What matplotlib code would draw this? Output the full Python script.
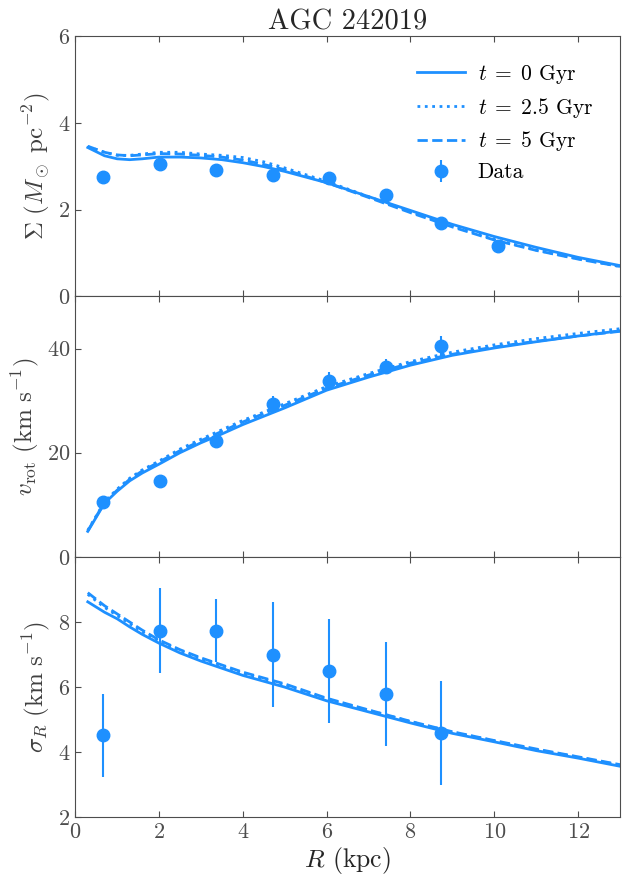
import matplotlib
matplotlib.use('Agg')
import matplotlib.pyplot as plt

plt.rcParams['font.family'] = 'serif'
plt.rcParams['font.serif'] = ['cmr10']
plt.rcParams['mathtext.fontset'] = 'cm'
plt.rcParams['axes.formatter.use_mathtext'] = True
plt.rcParams['axes.unicode_minus'] = False

# ---- data ----
R_data = [0.67, 2.02, 3.37, 4.72, 6.05, 7.41, 8.74, 10.1]
sigma_data = [2.75, 3.05, 2.92, 2.80, 2.72, 2.33, 1.68, 1.17]
sigma_err = [0.05, 0.05, 0.05, 0.05, 0.05, 0.05, 0.05, 0.05]

vrot_data = [10.5, 14.6, 22.3, 29.4, 33.8, 36.5, 40.4]
vrot_err = [0.5, 0.5, 0.6, 1.5, 1.7, 1.4, 2.0]

sigR_data = [4.52, 7.73, 7.73, 7.0, 6.5, 5.8, 4.6]
sigR_err = [1.28, 1.3, 0.97, 1.6, 1.6, 1.6, 1.6]

R_model = [0.3, 0.7, 1.0, 1.3, 1.6, 2.0, 2.5, 3.0, 3.5, 4.0, 4.5, 5.0,
           6.0, 7.0, 8.0, 9.0, 10.0, 11.0, 12.0, 13.0]

sigma_t0 = [3.43, 3.24, 3.17, 3.15, 3.17, 3.21, 3.21, 3.19, 3.15, 3.08, 2.99, 2.88,
            2.62, 2.30, 1.98, 1.66, 1.38, 1.13, 0.90, 0.71]
sigma_t25 = [3.45, 3.32, 3.25, 3.25, 3.28, 3.32, 3.32, 3.28, 3.25, 3.20, 3.10, 2.96,
             2.65, 2.30, 1.95, 1.63, 1.32, 1.07, 0.87, 0.69]
sigma_t5 = [3.46, 3.32, 3.26, 3.24, 3.26, 3.29, 3.28, 3.25, 3.21, 3.14, 3.04, 2.92,
            2.62, 2.28, 1.93, 1.60, 1.30, 1.06, 0.86, 0.69]

vrot_t0 = [4.9, 10.3, 12.6, 14.6, 16.1, 17.8, 20.0, 21.9, 23.6, 25.4, 27.0, 28.6,
           32.0, 34.5, 36.8, 38.7, 40.1, 41.3, 42.4, 43.4]
vrot_t25 = [5.1, 10.6, 13.0, 15.1, 16.7, 18.4, 20.7, 22.6, 24.4, 26.2, 27.8, 29.4,
            32.7, 35.2, 37.5, 39.3, 40.7, 41.9, 42.9, 43.8]
vrot_t5 = [5.0, 10.5, 12.8, 14.9, 16.5, 18.2, 20.4, 22.3, 24.1, 25.9, 27.5, 29.1,
           32.4, 34.9, 37.2, 38.9, 40.3, 41.4, 42.4, 43.3]

sigR_t0 = [8.62, 8.30, 8.10, 7.85, 7.62, 7.35, 7.05, 6.80, 6.58, 6.36, 6.18, 6.00,
           5.58, 5.24, 4.90, 4.58, 4.32, 4.05, 3.82, 3.57]
sigR_t25 = [8.85, 8.45, 8.20, 7.95, 7.70, 7.42, 7.12, 6.87, 6.65, 6.43, 6.25, 6.07,
            5.64, 5.29, 4.94, 4.62, 4.35, 4.08, 3.85, 3.60]
sigR_t5 = [8.90, 8.50, 8.25, 8.00, 7.75, 7.45, 7.15, 6.90, 6.68, 6.46, 6.28, 6.10,
           5.66, 5.30, 4.95, 4.63, 4.36, 4.10, 3.86, 3.62]

col = '#1E90FF'

fig, axes = plt.subplots(3, 1, figsize=(6.32, 8.77), sharex=True)
fig.subplots_adjust(left=0.119, right=0.981, top=0.959, bottom=0.068, hspace=0)

panels = [
    (sigma_t0, sigma_t25, sigma_t5, R_data, sigma_data, sigma_err,
     r'$\Sigma\ (M_\odot\ \mathrm{pc}^{-2})$', (0, 6), [0, 2, 4, 6]),
    (vrot_t0, vrot_t25, vrot_t5, R_data[:7], vrot_data, vrot_err,
     r'$v_\mathrm{rot}\ (\mathrm{km\ s}^{-1})$', (0, 50), [0, 20, 40]),
    (sigR_t0, sigR_t25, sigR_t5, R_data[:7], sigR_data, sigR_err,
     r'$\sigma_R\ (\mathrm{km\ s}^{-1})$', (2, 10), [2, 4, 6, 8]),
]

for ax, (m0, m25, m5, rx, y, ye, lab, lim, ticks) in zip(axes, panels):
    ax.plot(R_model, m0, '-', color=col, lw=2, label=r'$t\;=\;0$ Gyr')
    ax.plot(R_model, m25, ':', color=col, lw=2, label=r'$t\;=\;2.5$ Gyr')
    ax.plot(R_model, m5, '--', color=col, lw=2, label=r'$t\;=\;5$ Gyr')
    ax.errorbar(rx, y, yerr=ye, fmt='o', color=col, ms=9, elinewidth=1.5,
                capsize=0, label='Data')
    ax.set_ylim(*lim)
    ax.set_yticks(ticks)
    ax.set_ylabel(lab, fontsize=18, color='0.25')
    ax.tick_params(direction='in', top=True, labelsize=16, labelcolor='0.3',
                   length=4, color='0.3')
    for s in ax.spines.values():
        s.set_color('0.3')

axes[0].legend(loc='upper right', frameon=False, fontsize=15.5, handlelength=2.2,
               handletextpad=0.6, labelspacing=0.45, borderaxespad=0.85)
axes[0].set_title('AGC 242019', fontsize=20.5, color='0.15', pad=5)
axes[2].set_xlim(0, 13)
axes[2].set_xticks([0, 2, 4, 6, 8, 10, 12])
axes[2].set_xlabel(r'$R$ (kpc)', fontsize=18.5, color='0.15', labelpad=2)

fig.savefig('out.png', dpi=100)
